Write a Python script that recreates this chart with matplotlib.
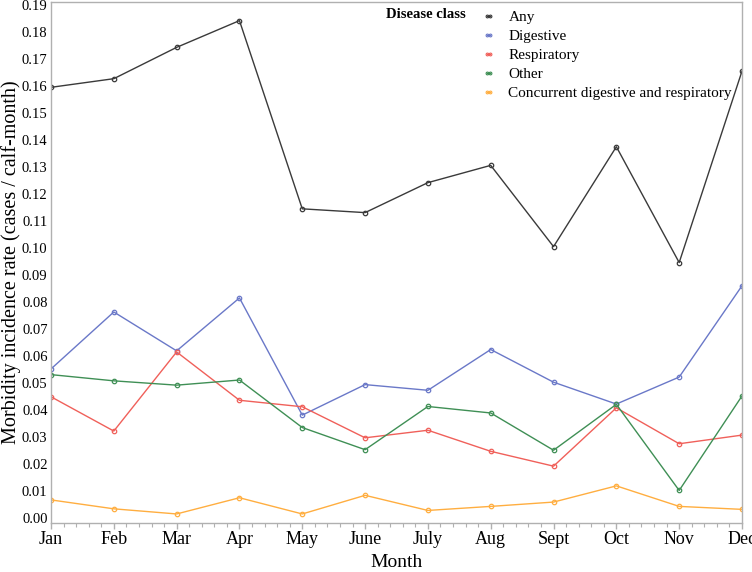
import matplotlib
matplotlib.use("Agg")
import matplotlib.pyplot as plt
from matplotlib.ticker import AutoMinorLocator
from matplotlib.lines import Line2D

months = ["Jan", "Feb", "Mar", "Apr", "May", "June", "July", "Aug", "Sept", "Oct", "Nov", "Dec"]
any_rate = [0.1595, 0.1627, 0.1743, 0.1842, 0.1145, 0.1131, 0.1242, 0.1306, 0.1005, 0.1375, 0.0946, 0.1655]
digestive = [0.0552, 0.0763, 0.0619, 0.0815, 0.0381, 0.0494, 0.0473, 0.0624, 0.0503, 0.0422, 0.0522, 0.0860]
respiratory = [0.0449, 0.0322, 0.0615, 0.0436, 0.0412, 0.0297, 0.0325, 0.0247, 0.0192, 0.0408, 0.0275, 0.0307]
other = [0.0531, 0.0508, 0.0492, 0.0511, 0.0335, 0.0253, 0.0413, 0.0389, 0.0251, 0.0421, 0.0102, 0.0452]
concurrent = [0.0067, 0.0034, 0.0015, 0.0075, 0.0015, 0.0084, 0.0028, 0.0043, 0.0059, 0.0119, 0.0043, 0.0032]

series_names = ["Any", "Digestive", "Respiratory", "Other", "Concurrent digestive and respiratory"]
series_vals = [any_rate, digestive, respiratory, other, concurrent]
colors = ["#3a3a3a", "#6a78c8", "#f0605a", "#3f8f55", "#ffae40"]

plt.rcParams['font.family'] = ['Liberation Serif', 'DejaVu Serif']

fig = plt.figure(figsize=(7.52, 5.72), dpi=100)
W, H = 752, 572
left, right, top, bottom = 51, 742, 2, 523
ax = fig.add_axes([left / W, 1 - bottom / H, (right - left) / W, (bottom - top) / H])

x = list(range(len(months)))
for name, vals, c in zip(series_names, series_vals, colors):
    ax.plot(x, vals, color=c, lw=1.0, marker='o', markersize=3.2,
            mfc='none', mec=c, mew=0.9, label=name)

ax.set_xlim(0, 11)
ax.set_xticks(x)
ax.set_xticklabels(months)
ax.xaxis.set_minor_locator(AutoMinorLocator(5))
yt = [i / 100 for i in range(20)]
ax.set_yticks(yt)
ax.set_yticklabels([f"{v:.2f}" for v in yt])
ax.set_ylim(-0.00185, 0.1911)

for s in ax.spines.values():
    s.set_color("#b0b0b0")
    s.set_linewidth(1.0)
ax.tick_params(axis='y', which='major', labelsize=10.5, length=0, pad=2.5)
ax.tick_params(axis='x', which='major', labelsize=13, color="#b0b0b0", length=4, width=1, pad=2)
ax.tick_params(axis='x', which='minor', color="#b0b0b0", length=3, width=0.8)

ax.set_xlabel("Month", fontsize=14, labelpad=4)
ax.set_ylabel("Morbidity incidence rate (cases / calf-month)", fontsize=14.5)
ax.yaxis.set_label_coords((21 - left) / (right - left), 0.5)

handles = [Line2D([0], [0], color=c, lw=1.0, marker='o', markersize=2.0, mfc='none', mec=c, mew=0.8)
           for c in colors]
leg = ax.legend(handles, series_names, loc='upper left', bbox_to_anchor=((474 - left) / (right - left), 1.0),
                frameon=False, fontsize=11, handlelength=0.8, handletextpad=0.9,
                labelspacing=0.35, borderaxespad=0.15, numpoints=2)
fig.text(386 / W, 1 - 14 / H, "Disease class", fontsize=10.5, fontweight='bold', va='center', ha='left')

fig.savefig("out.png", dpi=100)
